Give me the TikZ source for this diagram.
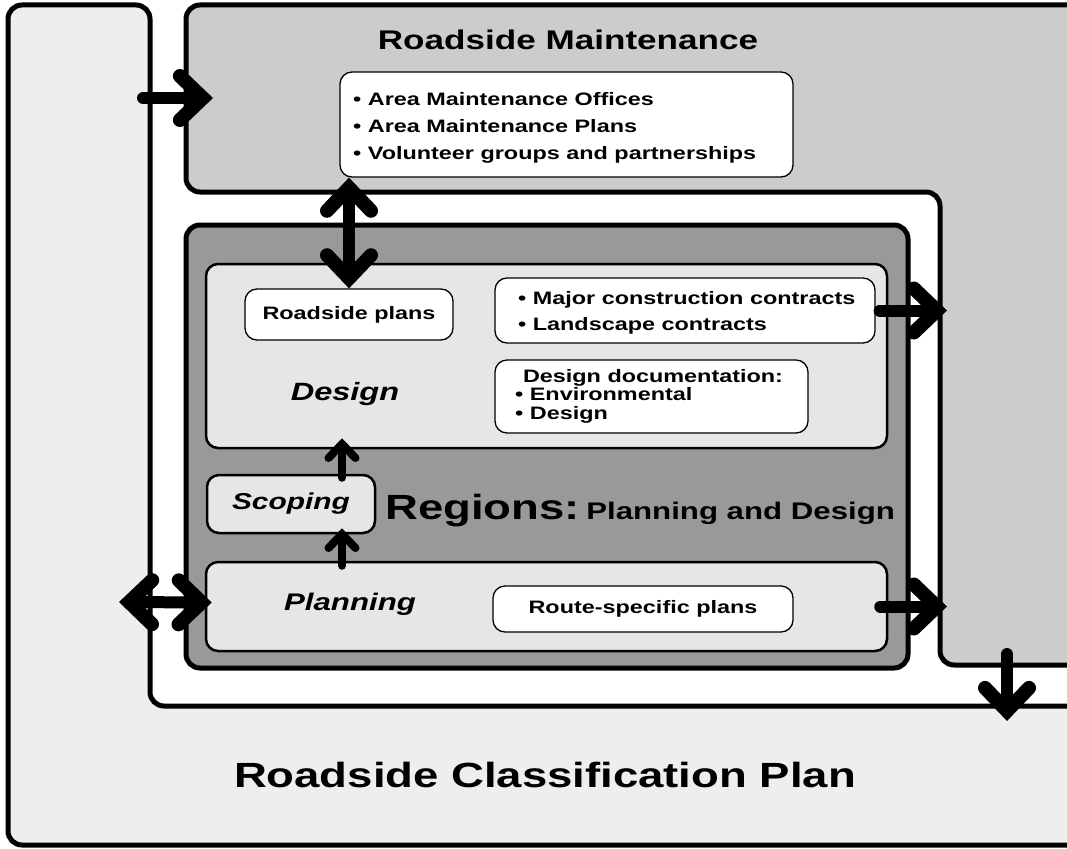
\documentclass[tikz,border=0pt]{standalone}
\usepackage{fontspec}
\setmainfont{Liberation Sans}
\usetikzlibrary{arrows.meta,calc}
\definecolor{classgray}{HTML}{EEEEEE}
\definecolor{maintgray}{HTML}{CCCCCC}
\definecolor{regiongray}{HTML}{999999}
\definecolor{boxgray}{HTML}{E6E6E6}
\newcommand{\sx}[1]{\scalebox{1.3}[1]{#1}}
\newcommand{\fs}[1]{\fontsize{#1}{#1}\selectfont}
\begin{document}
\begin{tikzpicture}[x=1pt,y=-1pt,
  frame/.style={draw=black,line width=5pt,rounded corners=14pt},
  regionbox/.style={draw=black,line width=5pt,rounded corners=14pt,fill=regiongray,inner sep=0pt},
  stagebox/.style={draw=black,line width=2.5pt,rounded corners=12pt,fill=boxgray,inner sep=0pt},
  itembox/.style={draw=black,line width=1.3pt,rounded corners=12pt,fill=white,inner sep=0pt},
  lbl/.style={inner sep=0pt,font=\bfseries},
  ilbl/.style={inner sep=0pt,font=\bfseries\itshape},
  bigtip/.tip={Straight Barb[length=23pt,width=44pt,line width=14pt,line cap=round,line join=miter]},
  smalltip/.tip={Straight Barb[length=14pt,width=27pt,line cap=round,line join=miter]},
  bigarrow/.style={line width=12pt,line cap=round,-bigtip},
  dblarrow/.style={line width=12pt,bigtip-bigtip},
  smallarrow/.style={line width=8pt,line cap=round,-smalltip}
]
\useasboundingbox (0,0) rectangle (1067,848);

% Roadside Classification Plan (L-shape)
\draw[frame,fill=classgray] (8,5) -- (150,5) -- (150,706) -- (1100,706) -- (1100,845) -- (8,845) -- cycle;
% Roadside Maintenance (inverted L-shape)
\draw[frame,fill=maintgray] (186,5) -- (1100,5) -- (1100,665) -- (940,665) -- (940,192) -- (186,192) -- cycle;

% Regions
\node[regionbox,minimum width=722pt,minimum height=443pt] (regions) at (547,446.5) {};
\node[stagebox,minimum width=681pt,minimum height=184pt] (design) at (546.5,356) {};
\node[stagebox,minimum width=168pt,minimum height=58pt] (scoping) at (291,504) {\fs{23}\itshape\bfseries\sx{Scoping}};
\node[stagebox,minimum width=681pt,minimum height=89pt] (planning) at (546.5,606.5) {};

% item boxes
\node[itembox,minimum width=453pt,minimum height=105pt] (areabox) at (566.5,124.5) {};
\node[itembox,minimum width=208pt,minimum height=51pt] (rplans) at (349,314.5) {\fs{18}\bfseries\sx{Roadside plans}};
\node[itembox,minimum width=380pt,minimum height=65pt] (major) at (685,310.5) {};
\node[itembox,minimum width=313pt,minimum height=73pt] (docbox) at (651.5,396.5) {};
\node[itembox,minimum width=300pt,minimum height=46pt] (route) at (643,609) {\fs{18}\bfseries\sx{Route-specific plans}};

% texts
\node[lbl,anchor=base] (tmaint) at (568,50) {\fs{27}\sx{Roadside Maintenance}};
\node[lbl,anchor=base west] (ao1) at (353,105.5) {\fs{18}\sx{• Area Maintenance Offices}};
\node[lbl,anchor=base west] (ao2) at (353,132.5) {\fs{18}\sx{• Area Maintenance Plans}};
\node[lbl,anchor=base west] (ao3) at (353,159.5) {\fs{18}\sx{• Volunteer groups and partnerships}};
\node[lbl,anchor=base west] (mc1) at (518,304.5) {\fs{18}\sx{• Major construction contracts}};
\node[lbl,anchor=base west] (mc2) at (518,330.5) {\fs{18}\sx{• Landscape contracts}};
\node[lbl,anchor=base] (dd0) at (653,382) {\fs{18}\sx{Design documentation:}};
\node[lbl,anchor=base west] (dd1) at (515,400.5) {\fs{18}\sx{• Environmental}};
\node[lbl,anchor=base west] (dd2) at (515,419.5) {\fs{18}\sx{• Design}};
\node[ilbl] (tdesign) at (345,394) {\fs{25}\sx{Design}};
\node[ilbl] (tplanning) at (350,604) {\fs{24}\sx{Planning}};
\node[lbl,anchor=base west] (tregions) at (385,519) {\sx{\fs{35}Regions:\hspace{5pt}\fs{24}Planning and Design}};
\node[lbl,anchor=base] (tclass) at (545,787) {\fs{35}\sx{Roadside Classification Plan}};

% free ends
\coordinate (inA) at (143,98);
\coordinate (inAtip) at (213,98);
\coordinate (leftTip) at (119,602);
\coordinate (majTip) at (947,310.5);
\coordinate (planTip) at (947,606.5);
\coordinate (downS) at (1007,654);
\coordinate (downE) at (1007,721);

% arrows
\draw[bigarrow] (inA) -- (inAtip);
\draw[dblarrow] (rplans.north |- areabox.south) -- (rplans.north);
\draw[bigarrow] ($(major.east)+(4,0)$) -- (majTip);
\draw[smallarrow] ($(scoping.north)+(51,4)$) -- ($(design.south -| scoping.north)+(51,-11)$);
\draw[smallarrow] ($(planning.north -| scoping.south)+(51,5)$) -- ($(scoping.south)+(51,-6)$);
\draw[dblarrow] (leftTip) -- ($(planning.west)+(7,-4)$);
\draw[bigarrow] ($(planning.east)+(-8,0)$) -- (planTip);
\draw[bigarrow] (downS) -- (downE);
\end{tikzpicture}
\end{document}
